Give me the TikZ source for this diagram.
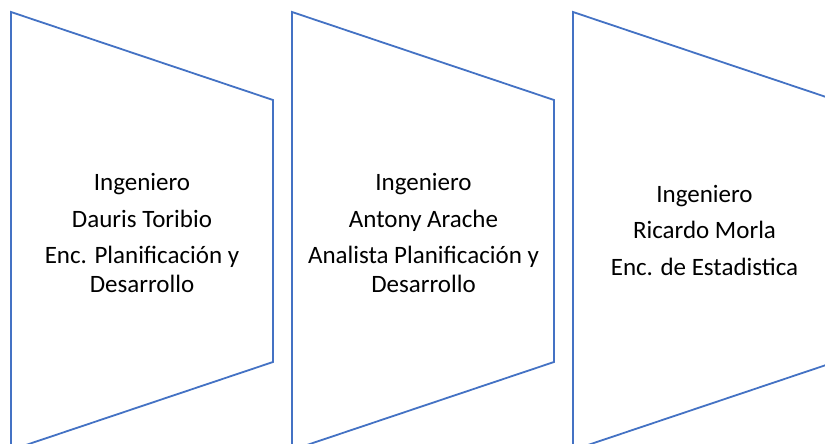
\documentclass[tikz,border=0pt]{standalone}
\usepackage{fontspec}
\setmainfont{Carlito}
\definecolor{shapeblue}{HTML}{4472C4}
\tikzset{
  chevron/.style={draw=shapeblue, line width=1.8pt, line join=miter},
  label/.style={align=center, text=black, font=\fontsize{25}{28.5}\selectfont, inner sep=0pt}
}
\begin{document}
\begin{tikzpicture}[x=1pt,y=-1pt]
\useasboundingbox (0,0) rectangle (825,444);
\clip (0,0) rectangle (825,444);
\fill[white] (0,0) rectangle (825,444);
\foreach \i/\x in {1/11, 2/292, 3/573} {
  \coordinate (tl\i) at (\x,12);
  \coordinate (tr\i) at (\x+262,100);
  \coordinate (br\i) at (\x+262,362);
  \coordinate (bl\i) at (\x,450);
  \draw[chevron] (bl\i) -- (tl\i) -- (tr\i) -- (br\i) -- (bl\i);
}
\node[label] (t1) at (142,233) {Ingeniero\\[8pt]Dauris Toribio\\[8pt]Enc. Planificación y\\Desarrollo};
\node[label] (t2) at (423.5,233) {Ingeniero\\[8pt]Antony Arache\\[8pt]Analista Planificación y\\Desarrollo};
\node[label] (t3) at (704.5,230) {Ingeniero\\[8pt]Ricardo Morla\\[8pt]Enc. de Estadistica};
\end{tikzpicture}
\end{document}
